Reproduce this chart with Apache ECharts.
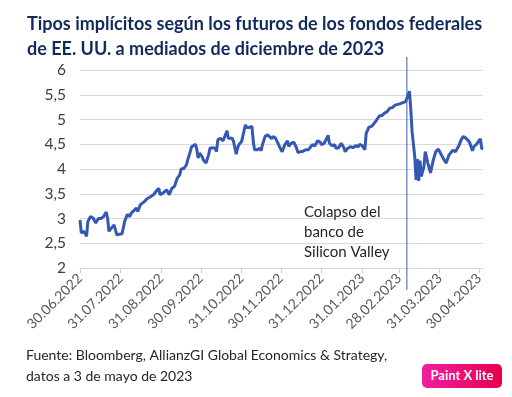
<!DOCTYPE html>
<html>
<head>
<meta charset="utf-8">
<script src="https://cdn.jsdelivr.net/npm/echarts/dist/echarts.min.js"></script>
<style>
html, body { margin: 0; padding: 0; background: #ffffff; }
#container { width: 512px; height: 397px; }
</style>
</head>
<body>
<div id="container"></div>
<script type="text/javascript">
// fechas y valores
var fechas = [
  '2022-06-30','2022-07-01','2022-07-03','2022-07-04','2022-07-05','2022-07-06','2022-07-08','2022-07-10',
  '2022-07-12','2022-07-14','2022-07-16','2022-07-18','2022-07-20','2022-07-21','2022-07-22','2022-07-24',
  '2022-07-26','2022-07-27','2022-07-28','2022-07-30','2022-08-01','2022-08-03','2022-08-04','2022-08-05',
  '2022-08-07','2022-08-08','2022-08-10','2022-08-12','2022-08-13','2022-08-15','2022-08-16','2022-08-18',
  '2022-08-20','2022-08-22','2022-08-25','2022-08-27','2022-08-29','2022-08-30','2022-09-01','2022-09-02',
  '2022-09-04','2022-09-05','2022-09-06','2022-09-08','2022-09-10','2022-09-11','2022-09-12','2022-09-14',
  '2022-09-15','2022-09-17','2022-09-19','2022-09-20','2022-09-22','2022-09-23','2022-09-24','2022-09-26',
  '2022-09-27','2022-09-28','2022-09-29','2022-10-01','2022-10-02','2022-10-04','2022-10-06','2022-10-07',
  '2022-10-09','2022-10-11','2022-10-12','2022-10-13','2022-10-15','2022-10-17','2022-10-18','2022-10-20',
  '2022-10-21','2022-10-22','2022-10-24','2022-10-25','2022-10-27','2022-10-28','2022-10-29','2022-10-31',
  '2022-11-01','2022-11-03','2022-11-04','2022-11-05','2022-11-06','2022-11-08','2022-11-09','2022-11-10',
  '2022-11-12','2022-11-14','2022-11-15','2022-11-16','2022-11-18','2022-11-20','2022-11-21','2022-11-23',
  '2022-11-24','2022-11-26','2022-11-27','2022-11-29','2022-11-30','2022-12-01','2022-12-03','2022-12-05',
  '2022-12-06','2022-12-08','2022-12-10','2022-12-12','2022-12-13','2022-12-15','2022-12-17','2022-12-19',
  '2022-12-21','2022-12-22','2022-12-24','2022-12-26','2022-12-28','2022-12-30','2022-12-31','2023-01-02',
  '2023-01-03','2023-01-05','2023-01-06','2023-01-08','2023-01-10','2023-01-11','2023-01-13','2023-01-15',
  '2023-01-17','2023-01-18','2023-01-20','2023-01-22','2023-01-24','2023-01-26','2023-01-28','2023-01-29',
  '2023-01-31','2023-02-02','2023-02-03','2023-02-05','2023-02-07','2023-02-09','2023-02-10','2023-02-11',
  '2023-02-13','2023-02-15','2023-02-17','2023-02-19','2023-02-21','2023-02-23','2023-02-25','2023-02-26',
  '2023-02-28','2023-03-02','2023-03-03','2023-03-05','2023-03-06','2023-03-08','2023-03-09','2023-03-10',
  '2023-03-12','2023-03-13','2023-03-14','2023-03-15','2023-03-16','2023-03-17','2023-03-19','2023-03-20',
  '2023-03-22','2023-03-24','2023-03-26','2023-03-28','2023-03-30','2023-04-01','2023-04-03','2023-04-05',
  '2023-04-07','2023-04-10','2023-04-12','2023-04-13','2023-04-15','2023-04-16','2023-04-18','2023-04-20',
  '2023-04-22','2023-04-23','2023-04-25','2023-04-26','2023-04-28','2023-04-29','2023-05-01','2023-05-02',
  '2023-05-03'
];
var tipos = [
  2.97, 2.71, 2.74, 2.71, 2.64, 2.94, 3.04, 3.01,
  2.91, 3.00, 3.00, 3.04, 3.13, 3.01, 2.74, 2.81,
  2.87, 2.77, 2.67, 2.68, 2.69, 2.94, 2.91, 3.08,
  3.04, 3.11, 3.16, 3.21, 3.14, 3.28, 3.24, 3.34,
  3.40, 3.43, 3.48, 3.55, 3.61, 3.48, 3.51, 3.48,
  3.58, 3.55, 3.48, 3.61, 3.65, 3.65, 3.81, 3.88,
  4.00, 4.01, 4.08, 4.18, 4.35, 4.45, 4.49, 4.50,
  4.39, 4.22, 4.32, 4.25, 4.18, 4.12, 4.29, 4.42,
  4.43, 4.42, 4.35, 4.59, 4.62, 4.57, 4.55, 4.77,
  4.62, 4.65, 4.62, 4.55, 4.30, 4.42, 4.49, 4.55,
  4.66, 4.89, 4.84, 4.82, 4.84, 4.86, 4.55, 4.39,
  4.39, 4.42, 4.37, 4.49, 4.66, 4.69, 4.67, 4.61,
  4.66, 4.62, 4.63, 4.45, 4.42, 4.35, 4.49, 4.57,
  4.46, 4.52, 4.54, 4.42, 4.33, 4.35, 4.36, 4.39,
  4.39, 4.43, 4.49, 4.47, 4.57, 4.54, 4.49, 4.52,
  4.54, 4.68, 4.52, 4.47, 4.49, 4.42, 4.43, 4.52,
  4.43, 4.35, 4.42, 4.45, 4.43, 4.47, 4.45, 4.50,
  4.47, 4.39, 4.72, 4.84, 4.86, 4.92, 4.88, 4.99,
  5.07, 5.08, 5.13, 5.16, 5.23, 5.24, 5.29, 5.33,
  5.31, 5.33, 5.35, 5.36, 5.37, 5.57, 5.20, 4.75,
  4.25, 3.78, 4.20, 3.76, 4.17, 3.85, 4.05, 4.35,
  4.12, 3.92, 4.17, 4.35, 4.40, 4.30, 4.20, 4.12,
  4.28, 4.38, 4.35, 4.33, 4.49, 4.57, 4.66, 4.62,
  4.57, 4.52, 4.37, 4.45, 4.50, 4.54, 4.61, 4.42,
  4.40
];
var fechasEje = [
  '2022-06-30','2022-07-31','2022-08-31','2022-09-30','2022-10-31','2022-11-30',
  '2022-12-31','2023-01-31','2023-02-28','2023-03-31','2023-04-30'
];
var fechaSVB = '2023-03-06';

function ts(s) {
    var p = s.split('-');
    return new Date(+p[0], +p[1] - 1, +p[2]).getTime();
}
function pad(n) { return n < 10 ? '0' + n : '' + n; }

var serie = [];
for (var i = 0; i < fechas.length; i++) {
    serie.push([ts(fechas[i]), tipos[i]]);
}
var ticks = fechasEje.map(ts);

var fuente = 'Lato';
var dom = document.getElementById("container");
var myChart = echarts.init(dom, null, {renderer: 'canvas'});
var option = {
    animation: false,
    title: {
        text: 'Tipos implícitos según los futuros de los fondos federales\nde EE. UU. a mediados de diciembre de 2023',
        left: 22,
        top: 7,
        textStyle: {
            fontFamily: fuente,
            fontSize: 18,
            fontWeight: 'bold',
            color: '#132a5c',
            lineHeight: 25
        }
    },
    grid: {
        left: 80,
        right: 29,
        top: 70,
        bottom: 129
    },
    // eje de fechas como valor numerico para poner las marcas a fin de mes
    xAxis: {
        type: 'value',
        min: ts('2022-06-30'),
        max: ts('2023-05-03'),
        axisLine: { show: true, lineStyle: { color: '#d9d9d9', width: 1 } },
        axisTick: { show: true, customValues: ticks, length: 5, lineStyle: { color: '#d0d0d0' } },
        splitLine: { show: false },
        axisLabel: {
            customValues: ticks,
            rotate: 45,
            margin: 8,
            fontFamily: fuente,
            fontSize: 14,
            color: '#595959',
            formatter: function (v) {
                var d = new Date(v);
                return pad(d.getDate()) + '.' + pad(d.getMonth() + 1) + '.' + d.getFullYear();
            }
        }
    },
    yAxis: {
        type: 'value',
        min: 2,
        max: 6,
        interval: 0.5,
        axisLine: { show: false },
        axisTick: { show: false },
        splitLine: { lineStyle: { color: '#d9d9d9', width: 1 } },
        axisLabel: {
            margin: 14,
            fontFamily: fuente,
            fontSize: 15.5,
            color: '#404040',
            formatter: function (v) { return String(v).replace('.', ','); }
        }
    },
    series: [
        {
            name: 'Tipo implícito',
            type: 'line',
            data: serie,
            showSymbol: false,
            lineStyle: { color: '#3458b4', width: 3 },
            itemStyle: { color: '#3458b4' }
        }
    ]
};
myChart.setOption(option);

// linea vertical del colapso de SVB, posicion tomada del eje
var xSVB = myChart.convertToPixel({xAxisIndex: 0}, ts(fechaSVB));
myChart.setOption({
    graphic: [
        {
            type: 'line',
            shape: { x1: xSVB, y1: 57, x2: xSVB, y2: 290 },
            style: { stroke: '#3a5db2', lineWidth: 1 },
            z: 10
        },
        {
            type: 'text',
            style: {
                text: 'Colapso del\nbanco de\nSilicon Valley',
                x: 304, y: 202,
                font: '15px ' + fuente,
                fill: '#262626',
                lineHeight: 20
            }
        },
        {
            type: 'text',
            style: {
                text: 'Fuente: Bloomberg, AllianzGI Global Economics & Strategy,\ndatos a 3 de mayo de 2023',
                x: 26, y: 345,
                font: '14px ' + fuente,
                fill: '#262626',
                lineHeight: 21
            }
        },
        {
            type: 'group',
            children: [
                {
                    type: 'rect',
                    shape: { x: 422, y: 364, width: 80, height: 24, r: 5 },
                    style: {
                        fill: new echarts.graphic.LinearGradient(0, 0, 1, 0, [
                            { offset: 0, color: '#f21ea0' },
                            { offset: 1, color: '#e6004f' }
                        ])
                    }
                },
                {
                    type: 'text',
                    style: {
                        text: 'Paint X lite',
                        x: 462, y: 376,
                        align: 'center',
                        verticalAlign: 'middle',
                        font: 'bold 13px ' + fuente,
                        fill: '#ffffff'
                    }
                }
            ]
        }
    ]
});
</script>
</body>
</html>
